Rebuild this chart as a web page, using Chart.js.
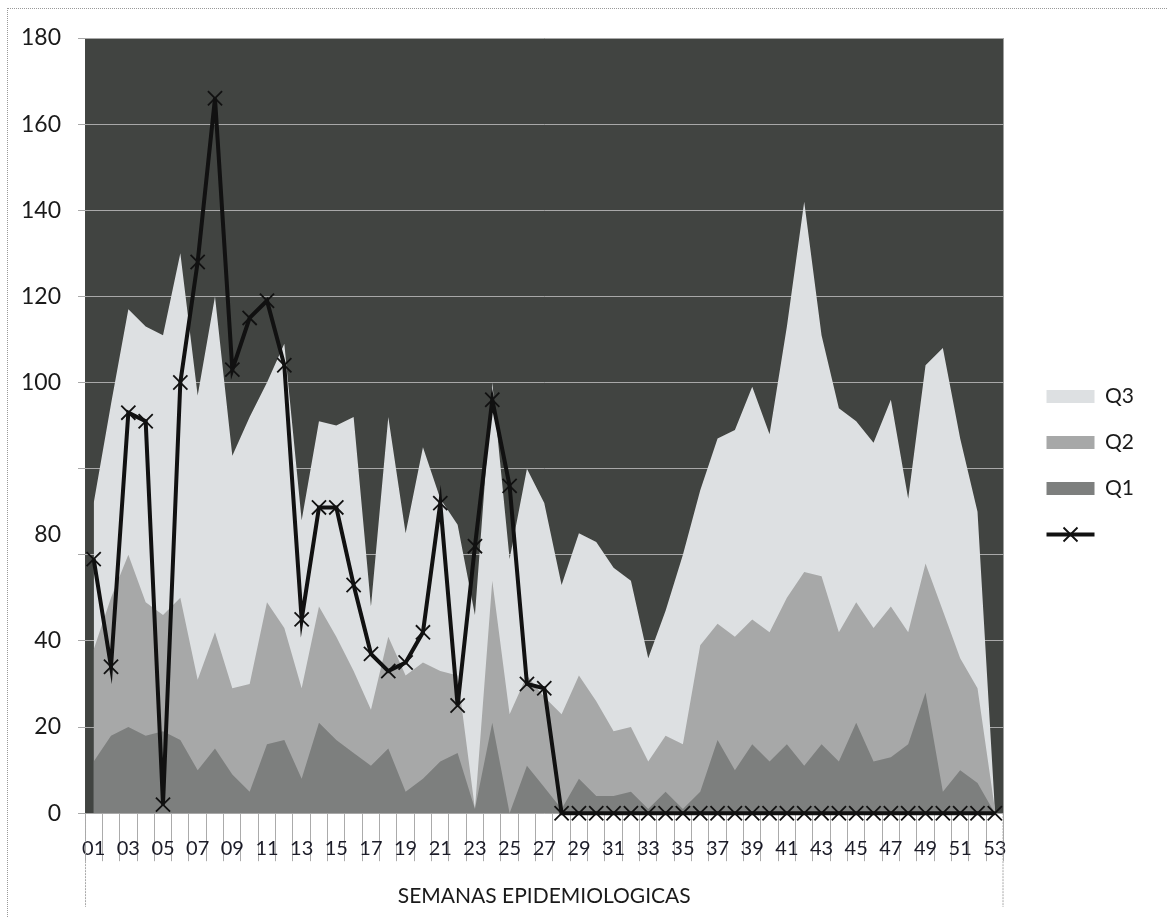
<!DOCTYPE html>
<html>
<head>
<meta charset="utf-8">
<script src="https://cdn.jsdelivr.net/npm/chart.js@4.4.1/dist/chart.umd.min.js"></script>
<style>
  body { margin: 0; background: #fff; }
  #wrap { position: relative; width: 1167px; height: 917px; overflow: hidden; }
  #frame { position: absolute; left: 7px; top: 8px; right: -20px; bottom: -20px;
           border-left: 1px dotted #999; border-top: 1px dotted #999; pointer-events: none; }
  canvas { position: absolute; left: 0; top: 0; }
</style>
</head>
<body>
<div id="wrap">
  <div id="frame"></div>
  <canvas id="chart" width="1167" height="917"></canvas>
</div>
<script>
// semanas epidemiologicas
const semanas = ['01','02','03','04','05','06','07','08','09','10','11','12','13','14','15','16','17','18',
  '19','20','21','22','23','24','25','26','27','28','29','30','31','32','33','34','35','36',
  '37','38','39','40','41','42','43','44','45','46','47','48','49','50','51','52','53'];

const q3 = [72, 95, 117, 113, 111, 130, 97, 120, 83, 92, 100, 109, 68, 91, 90, 92, 48, 92,
  65, 85, 73, 67, 46, 100, 59, 80, 72, 53, 65, 63, 57, 54, 36, 47, 60, 75,
  87, 89, 99, 88, 113, 142, 111, 94, 91, 86, 96, 73, 104, 108, 87, 70, 1];

const q2 = [38, 50, 60, 49, 46, 50, 31, 42, 29, 30, 49, 43, 29, 48, 41, 33, 24, 41,
  32, 35, 33, 32, 1, 54, 23, 32, 27, 23, 32, 26, 19, 20, 12, 18, 16, 39,
  44, 41, 45, 42, 50, 56, 55, 42, 49, 43, 48, 42, 58, 47, 36, 29, 1];

const q1 = [12, 18, 20, 18, 19, 17, 10, 15, 9, 5, 16, 17, 8, 21, 17, 14, 11, 15,
  5, 8, 12, 14, 1, 21, 0, 11, 6, 1, 8, 4, 4, 5, 1, 5, 1, 5,
  17, 10, 16, 12, 16, 11, 16, 12, 21, 12, 13, 16, 28, 5, 10, 7, 0];

const casos = [59, 34, 93, 91, 2, 100, 128, 166, 103, 115, 119, 104, 45, 71, 71, 53, 37, 33,
  35, 42, 72, 25, 62, 96, 76, 30, 29, 0, 0, 0, 0, 0, 0, 0, 0, 0,
  0, 0, 0, 0, 0, 0, 0, 0, 0, 0, 0, 0, 0, 0, 0, 0, 0];

// grid lines every 20; the scanned axis shows its labels at these spots
const yGrid = [0, 20, 40, 60, 80, 100, 120, 140, 160, 180];
const yLabelAt = [0, 20, 40, 64.6, 100, 120, 140, 160, 180];
const yLabelText = ['0', '20', '40', '80', '100', '120', '140', '160', '180'];

const FONT = 'Lato, "Open Sans", sans-serif';
const BG = '#414441';

const plotBg = {
  id: 'plotBg',
  beforeDraw(chart) {
    const a = chart.chartArea, ctx = chart.ctx;
    ctx.save();
    ctx.fillStyle = BG;
    ctx.fillRect(a.left, a.top, a.right - a.left, a.bottom - a.top);
    ctx.restore();
  },
  afterDraw(chart) {
    const a = chart.chartArea, ctx = chart.ctx, x = chart.scales.x;
    // long edge lines of the category box
    ctx.save();
    ctx.strokeStyle = '#a8a8a8';
    ctx.lineWidth = 1;
    ctx.setLineDash([2, 1]);
    ctx.beginPath();
    ctx.moveTo(a.left + 0.5, a.bottom); ctx.lineTo(a.left + 0.5, x.bottom + 14);
    ctx.moveTo(a.right - 0.5, a.bottom); ctx.lineTo(a.right - 0.5, x.bottom + 14);
    ctx.stroke();
    ctx.restore();

    // line symbol in the legend
    const lg = chart.legend;
    const idx = lg.legendItems.findIndex(it => it.datasetIndex === 3);
    const hb = lg.legendHitBoxes[idx];
    if (!hb) return;
    const bw = lg.options.labels.boxWidth;
    const cy = hb.top + hb.height / 2;
    ctx.save();
    ctx.strokeStyle = '#111';
    ctx.lineWidth = 4;
    ctx.beginPath();
    ctx.moveTo(hb.left, cy); ctx.lineTo(hb.left + bw, cy);
    ctx.stroke();
    ctx.lineWidth = 1.8;
    const cx = hb.left + bw / 2, r = 7;
    ctx.beginPath();
    ctx.moveTo(cx - r, cy - r); ctx.lineTo(cx + r, cy + r);
    ctx.moveTo(cx + r, cy - r); ctx.lineTo(cx - r, cy + r);
    ctx.stroke();
    ctx.restore();
  }
};

function area(label, data, color, order) {
  return {
    label: label, data: data, order: order,
    backgroundColor: color, borderColor: color, borderWidth: 0,
    fill: 'origin', pointRadius: 0, pointHoverRadius: 0, tension: 0
  };
}

new Chart(document.getElementById('chart'), {
  type: 'line',
  data: {
    labels: semanas,
    datasets: [
      area('Q3', q3, '#dde0e2', 4),
      area('Q2', q2, '#a7a8a8', 3),
      area('Q1', q1, '#7d7f7e', 2),
      {
        label: '', data: casos, order: 1,
        borderColor: '#111', backgroundColor: '#111', borderWidth: 4,
        pointStyle: 'crossRot', pointRadius: 10, pointBorderWidth: 1.8,
        pointBorderColor: '#111', fill: false, tension: 0, clip: false
      }
    ]
  },
  options: {
    responsive: false,
    animation: false,
    layout: { padding: { left: 4, top: 38, right: 23, bottom: 24 } },
    plugins: {
      tooltip: { enabled: false },
      legend: {
        position: 'right',
        labels: {
          boxWidth: 48, boxHeight: 13, padding: 25, color: '#1a1a1a',
          font: { family: FONT, size: 21 },
          sort: (a, b) => a.datasetIndex - b.datasetIndex,
          generateLabels(chart) {
            const items = Chart.defaults.plugins.legend.labels.generateLabels(chart);
            items.forEach(it => {
              if (it.datasetIndex === 3) {
                it.fillStyle = 'rgba(0,0,0,0)';
                it.strokeStyle = 'rgba(0,0,0,0)';
              }
              it.lineWidth = 0;
            });
            return items;
          }
        }
      }
    },
    scales: {
      x: {
        offset: true,
        border: { display: false },
        grid: { display: true, drawOnChartArea: false, drawTicks: true, tickLength: 48,
                offset: true, color: '#ababab' },
        ticks: {
          autoSkip: false, maxRotation: 0, minRotation: 0, padding: -24.4,
          color: '#1c1c28', font: { family: FONT, size: 20 },
          callback(v, i) { return i % 2 === 0 ? this.getLabelForValue(v) : ''; }
        },
        title: {
          display: true, text: 'SEMANAS EPIDEMIOLOGICAS', color: '#1a1a1a',
          font: { family: FONT, size: 21 }, padding: { top: 47, bottom: -15.6 }
        }
      },
      y: {
        min: 0, max: 180,
        border: { display: false },
        afterBuildTicks(scale) {
          const vals = yGrid.concat(yLabelAt.filter(v => !yGrid.includes(v))).sort((a, b) => a - b);
          scale.ticks = vals.map(v => ({ value: v }));
        },
        grid: {
          color: ctx => (ctx.tick && yGrid.includes(ctx.tick.value)) ? '#a8a8a8' : 'rgba(0,0,0,0)',
          tickLength: 7
        },
        ticks: {
          autoSkip: false, padding: 17, color: '#1a1a1a',
          font: { family: FONT, size: 23 },
          callback(v) {
            const k = yLabelAt.indexOf(v);
            return k >= 0 ? yLabelText[k] : '';
          }
        }
      },
      yR: {
        position: 'right', display: true, min: 0, max: 1,
        grid: { display: false }, border: { display: false },
        ticks: { display: false },
        afterFit(s) { s.width = 18; }
      }
    }
  },
  plugins: [plotBg]
});
</script>
</body>
</html>
